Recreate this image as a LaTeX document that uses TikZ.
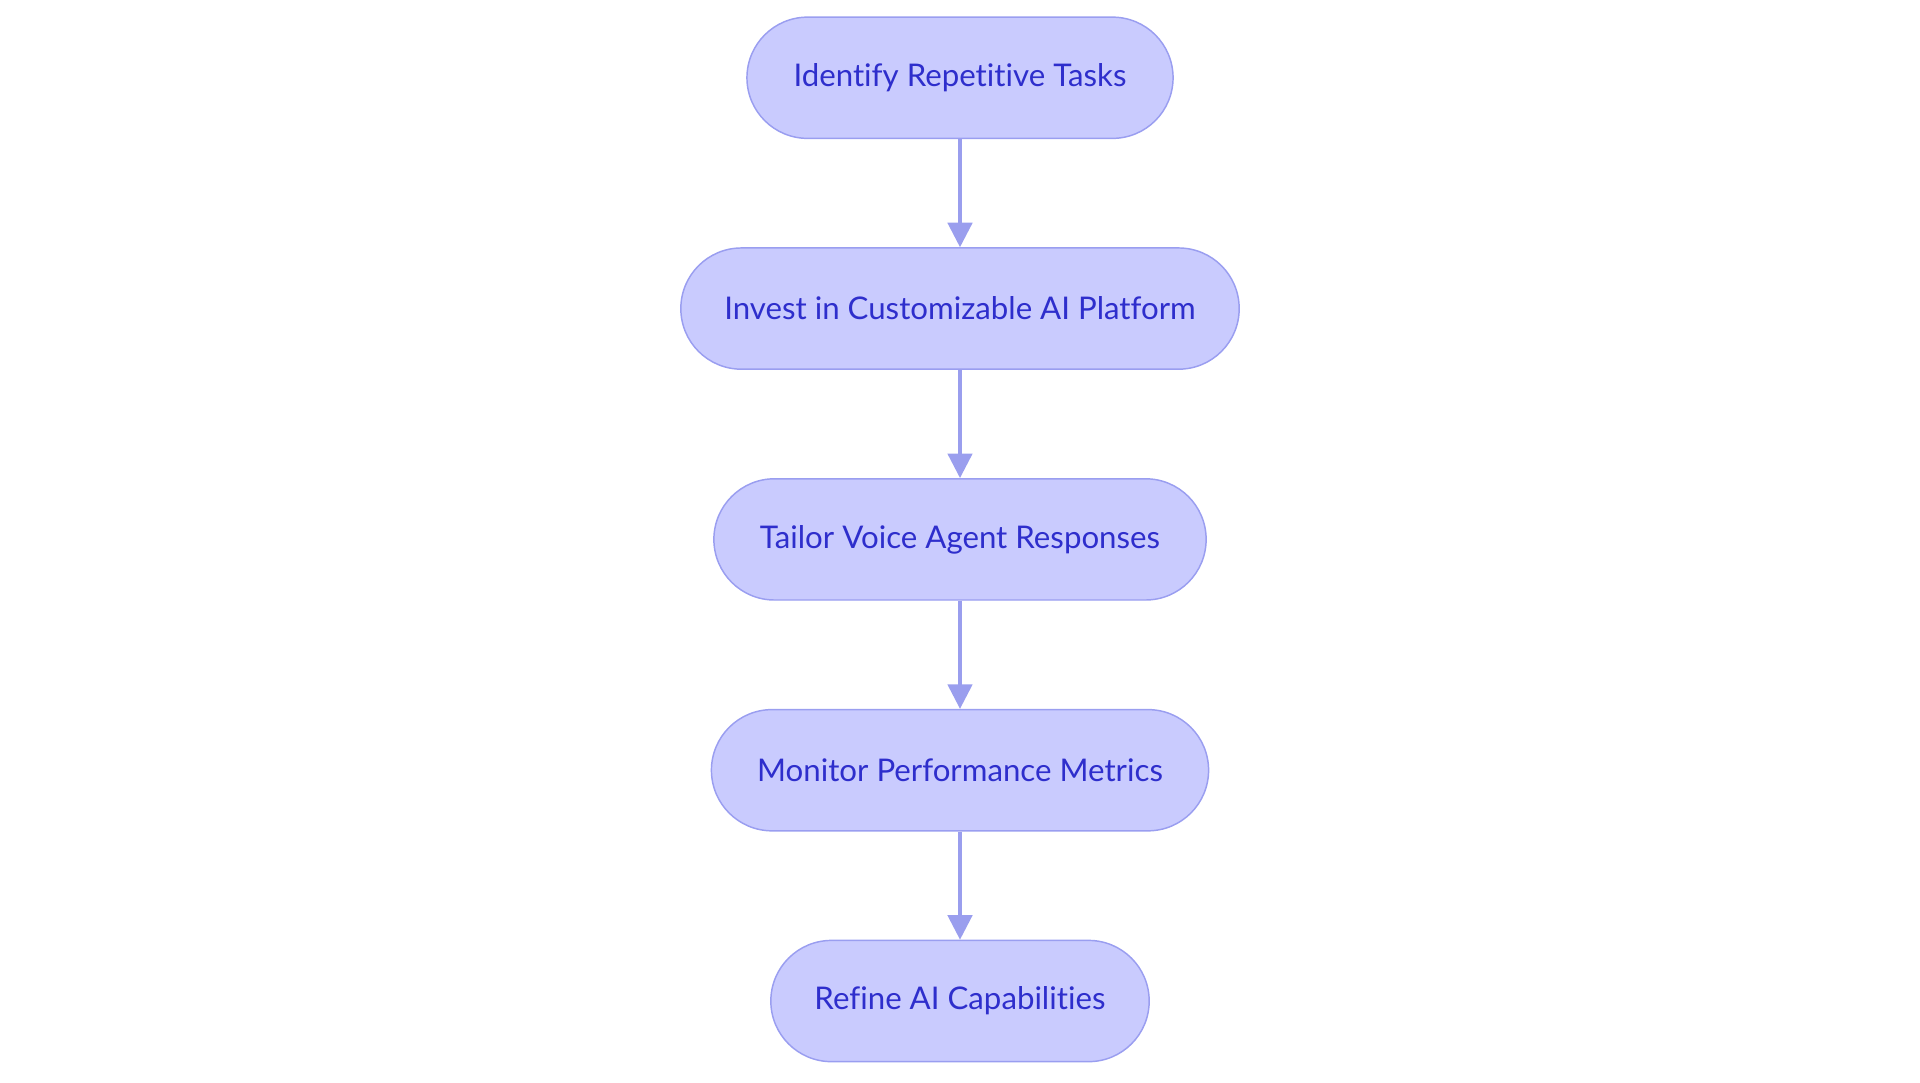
\documentclass[tikz,border=0pt]{standalone}
\usepackage{fontspec}
\setmainfont{Lato}[Ligatures={NoCommon}]
\usetikzlibrary{arrows.meta}
\definecolor{nfill}{HTML}{C9CBFE}
\definecolor{nline}{HTML}{9A9EF0}
\definecolor{ntext}{HTML}{2E2ECC}
\definecolor{aline}{HTML}{9A9EEE}
\begin{document}
\begin{tikzpicture}[x=1pt,y=-1pt,
  box/.style={draw=nline,line width=1.2pt,fill=nfill,rounded corners=49.5pt,
    minimum height=99pt,text=ntext,font=\fontsize{25.5}{28}\selectfont,inner sep=0pt},
  arr/.style={draw=aline,line width=2.6pt,-{Triangle[length=20pt,width=20pt]}}]
\useasboundingbox (0,0) rectangle (1568,884);
\node[box,minimum width=348pt] (a) at (784,63.5) {Identify Repetitive Tasks};
\node[box,minimum width=456pt] (b) at (784,252) {Invest in Customizable AI Platform};
\node[box,minimum width=402pt] (c) at (784,440.5) {Tailor Voice Agent Responses};
\node[box,minimum width=406pt] (d) at (784,629) {Monitor Performance Metrics};
\node[box,minimum width=309pt] (e) at (784,817.5) {Refine AI Capabilities};
\draw[arr] (a) -- (b);
\draw[arr] (b) -- (c);
\draw[arr] (c) -- (d);
\draw[arr] (d) -- (e);
\end{tikzpicture}
\end{document}
